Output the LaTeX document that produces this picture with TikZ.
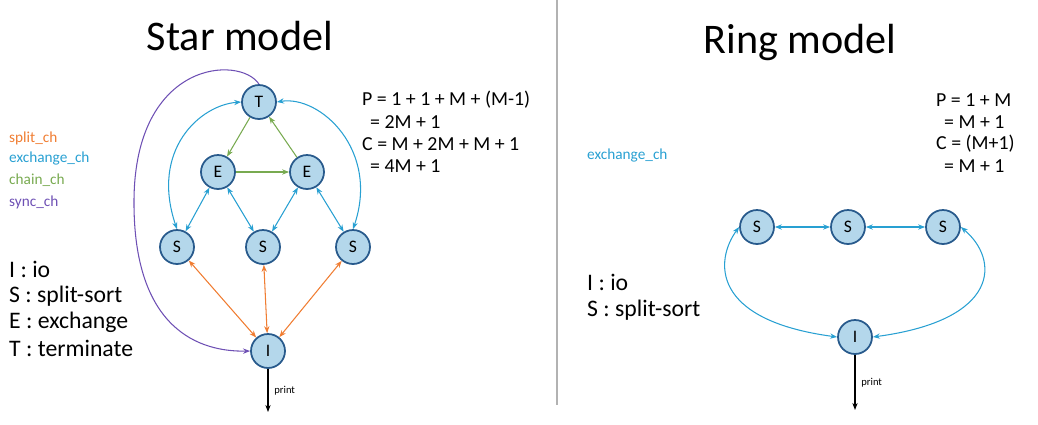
\documentclass[tikz,border=0pt]{standalone}
\usepackage{fontspec}
\setmainfont{Carlito}
\usetikzlibrary{arrows.meta}
\usetikzlibrary{positioning}
\definecolor{splitc}{RGB}{240,125,50}
\definecolor{exchc}{RGB}{40,160,210}
\definecolor{chainc}{RGB}{120,170,80}
\definecolor{syncc}{RGB}{110,80,180}
\definecolor{nodefill}{RGB}{180,215,235}
\definecolor{nodeline}{RGB}{40,90,140}
\tikzset{
  proc/.style={circle,draw=nodeline,fill=nodefill,line width=1pt,minimum size=0.68cm,inner sep=0pt,font=\fontsize{10}{12}\selectfont},
  link/.style={line width=0.6pt,{Stealth[length=4pt]}-{Stealth[length=4pt]}},
  one/.style={line width=0.6pt,-{Stealth[length=4pt]}},
  legend/.style={anchor=west,font=\fontsize{8.7}{10}\selectfont},
  key/.style={anchor=west,font=\fontsize{13.5}{15}\selectfont},
  formula/.style={anchor=west,font=\fontsize{11.3}{13}\selectfont}
}
\begin{document}
\begin{tikzpicture}[x=0.02cm,y=-0.02cm]
        \useasboundingbox (0,0) rectangle (1038,424);
        \draw[gray!60,line width=0.8pt] (557,0) -- (557,405);

        % star model
        \node at (240,36) (starTitle) {\fontsize{24}{28}\selectfont Star model};
        \node at (259,102) [proc] (T) {T};
        \node at (218,172) [proc] (E1) {E};
        \node at (307,172) [proc] (E2) {E};
        \node at (177,247) [proc] (S1) {S};
        \node at (263,247) [proc] (S2) {S};
        \node at (353,247) [proc] (S3) {S};
        \node at (268,351) [proc] (I) {I};
        \coordinate (out) at (268,412);

        \draw[one,chainc] (T) -- (E1);
        \draw[one,chainc] (E1) -- (E2);
        \draw[one,chainc] (E2) -- (T);
        \draw[link,exchc] (E1) -- (S1);
        \draw[link,exchc] (E1) -- (S2);
        \draw[link,exchc] (E2) -- (S2);
        \draw[link,exchc] (E2) -- (S3);
        \draw[link,exchc] (S1.north) .. controls (150,150) and (200,105) .. (T.west);
        \draw[link,exchc] (S3.north) .. controls (380,150) and (320,95) .. (T.east);
        \draw[link,splitc] (S1) -- (I);
        \draw[link,splitc] (S2) -- (I);
        \draw[link,splitc] (S3) -- (I);
        \draw[one,syncc] (T.north) .. controls (240,55) and (135,60) .. (134,200) .. controls (133,330) and (200,352) .. (I.west);
        \draw[one,black] (I) -- (out) node [midway,right,font=\fontsize{6}{7}\selectfont] {print};

        \node at (3,138) [legend,text=splitc] (l1) {split\_ch};
        \node at (3,158) [legend,text=exchc] (l2) {exchange\_ch};
        \node at (3,180) [legend,text=chainc] (l3) {chain\_ch};
        \node at (3,202) [legend,text=syncc] (l4) {sync\_ch};
        \node at (3,269) [key] (k1) {I : io};
        \node at (3,296) [key] (k2) {S : split-sort};
        \node at (3,322) [key] (k3) {E : exchange};
        \node at (3,348) [key] (k4) {T : terminate};

        \node at (356,100) [formula] (f1) {P = 1 + 1 + M + (M-1)};
        \node at (364,122) [formula] (f2) {= 2M + 1};
        \node at (356,144) [formula] (f3) {C = M + 2M + M + 1};
        \node at (364,166) [formula] (f4) {= 4M + 1};

        % ring model
        \node at (800,42) (ringTitle) {\fontsize{24}{28}\selectfont Ring model};
        \node at (757,227) [proc] (R1) {S};
        \node at (848,227) [proc] (R2) {S};
        \node at (943,227) [proc] (R3) {S};
        \node at (855,337) [proc] (RI) {I};
        \coordinate (rout) at (855,410);

        \draw[link,exchc] (R1) -- (R2);
        \draw[link,exchc] (R2) -- (R3);
        \draw[link,exchc] (R1.west) .. controls (715,260) and (710,320) .. (RI.west);
        \draw[link,exchc] (R3.east) .. controls (1000,260) and (1000,320) .. (RI.east);
        \draw[one,black] (RI) -- (rout) node [midway,right,font=\fontsize{6}{7}\selectfont] {print};

        \node at (581,155) [legend,text=exchc] (r1) {exchange\_ch};
        \node at (581,282) [key] (rk1) {I : io};
        \node at (581,310) [key] (rk2) {S : split-sort};

        \node at (930,100) [formula] (g1) {P = 1 + M};
        \node at (938,122) [formula] (g2) {= M + 1};
        \node at (930,144) [formula] (g3) {C = (M+1)};
        \node at (938,166) [formula] (g4) {= M + 1};
    \end{tikzpicture}
\end{document}
